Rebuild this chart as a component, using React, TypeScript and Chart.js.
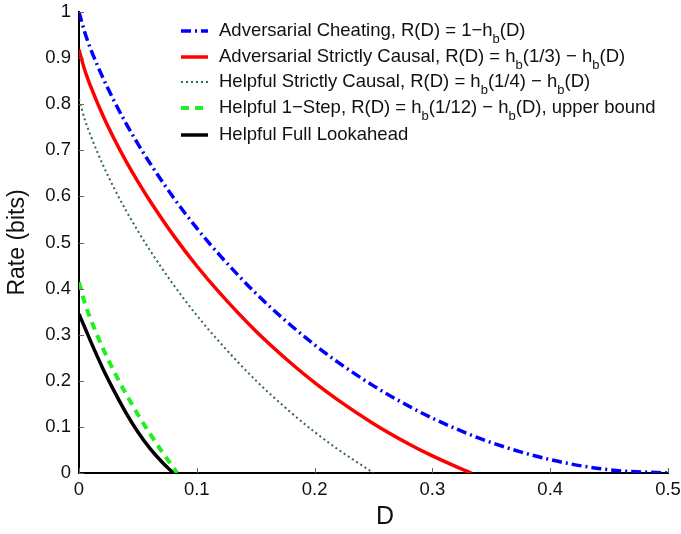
import React, { useEffect, useRef } from "react";
import { Chart, registerables } from "chart.js";
Chart.register(...registerables);

// Values
const cheatD = [0, 0.005, 0.01, 0.02, 0.03, 0.04, 0.05, 0.06, 0.08, 0.1, 0.12, 0.15, 0.18, 0.2, 0.22, 0.25, 0.28, 0.3, 0.32, 0.35, 0.4, 0.45, 0.5];
const cheatR = [1, 0.955, 0.919, 0.859, 0.806, 0.758, 0.714, 0.673, 0.598, 0.531, 0.471, 0.39, 0.32, 0.278, 0.24, 0.189, 0.145, 0.119, 0.096, 0.066, 0.029, 0.007, 0];

const advCausalD = [0, 0.005, 0.01, 0.02, 0.03, 0.04, 0.05, 0.06, 0.08, 0.1, 0.12, 0.15, 0.18, 0.2, 0.22, 0.25, 0.28, 0.3, 0.32, 0.333];
const advCausalR = [0.918, 0.873, 0.838, 0.777, 0.724, 0.676, 0.632, 0.591, 0.516, 0.449, 0.389, 0.308, 0.238, 0.196, 0.158, 0.107, 0.063, 0.037, 0.014, 0];

const helpCausalD = [0, 0.005, 0.01, 0.02, 0.03, 0.04, 0.05, 0.06, 0.08, 0.1, 0.12, 0.15, 0.18, 0.2, 0.22, 0.25];
const helpCausalR = [0.811, 0.766, 0.731, 0.67, 0.617, 0.569, 0.525, 0.484, 0.409, 0.342, 0.282, 0.201, 0.131, 0.089, 0.051, 0];

const oneStepD = [0, 0.005, 0.01, 0.02, 0.03, 0.04, 0.05, 0.06, 0.07, 0.08, 0.0833];
const oneStepR = [0.414, 0.368, 0.333, 0.272, 0.219, 0.171, 0.127, 0.086, 0.048, 0.012, 0];

const lookaheadD = [0, 0.005, 0.01, 0.02, 0.03, 0.04, 0.05, 0.06, 0.07, 0.08];
const lookaheadR = [0.345, 0.315, 0.285, 0.228, 0.177, 0.13, 0.089, 0.054, 0.025, 0];

const xTicks = [0, 0.1, 0.2, 0.3, 0.4, 0.5];
const yTicks = [0, 0.1, 0.2, 0.3, 0.4, 0.5, 0.6, 0.7, 0.8, 0.9, 1];

const xTitle = "D";
const yTitle = "Rate (bits)";

type Seg = { t: string; sub?: boolean };
const legendLabels: Seg[][] = [
  [{ t: "Adversarial Cheating, R(D) = 1\u2212h" }, { t: "b", sub: true }, { t: "(D)" }],
  [{ t: "Adversarial Strictly Causal, R(D) = h" }, { t: "b", sub: true }, { t: "(1/3) \u2212 h" }, { t: "b", sub: true }, { t: "(D)" }],
  [{ t: "Helpful Strictly Causal, R(D) = h" }, { t: "b", sub: true }, { t: "(1/4) \u2212 h" }, { t: "b", sub: true }, { t: "(D)" }],
  [{ t: "Helpful 1\u2212Step, R(D) = h" }, { t: "b", sub: true }, { t: "(1/12) \u2212 h" }, { t: "b", sub: true }, { t: "(D), upper bound" }],
  [{ t: "Helpful Full Lookahead" }],
];

const FONT = "'Liberation Sans', Arial, sans-serif";

const styles = [
  { color: "#0000ff", width: 3.5, dash: [10, 4, 2, 4] },
  { color: "#ff0000", width: 3.5, dash: [] as number[] },
  { color: "#2e6b4a", width: 2, dash: [2, 3] },
  { color: "#22ee22", width: 4, dash: [8, 6] },
  { color: "#000000", width: 3.5, dash: [] as number[] },
];

const pts = (xs: number[], ys: number[]) => xs.map((x, i) => ({ x, y: ys[i] }));

const legendPlugin = {
  id: "customLegend",
  afterDraw(chart: any) {
    const ctx = chart.ctx;
    const { left, bottom } = chart.chartArea;
    ctx.save();
    // inward tick marks
    ctx.strokeStyle = "#666";
    ctx.lineWidth = 1;
    const xs = chart.scales.x, ys = chart.scales.y;
    xTicks.forEach((v) => {
      const px = Math.round(xs.getPixelForValue(v)) + 0.5;
      ctx.beginPath();
      ctx.moveTo(px, bottom);
      ctx.lineTo(px, bottom - 5);
      ctx.stroke();
    });
    yTicks.forEach((v) => {
      const py = Math.round(ys.getPixelForValue(v)) + 0.5;
      ctx.beginPath();
      ctx.moveTo(left, py);
      ctx.lineTo(left + 5, py);
      ctx.stroke();
    });
    // x-axis title (slightly right of centre, as in the reference)
    ctx.fillStyle = "#111";
    ctx.font = `25px ${FONT}`;
    ctx.textAlign = "center";
    ctx.textBaseline = "middle";
    ctx.fillText(xTitle, 385, 517);
    // legend
    const rowsY = [31, 57, 82, 108, 135];
    const lx0 = 181, lx1 = 208, tx = 219;
    legendLabels.forEach((segs, i) => {
      const s = styles[i];
      const y = rowsY[i];
      ctx.strokeStyle = s.color;
      ctx.lineWidth = s.width;
      ctx.setLineDash(s.dash);
      ctx.beginPath();
      ctx.moveTo(lx0, y);
      ctx.lineTo(lx1, y);
      ctx.stroke();
      ctx.setLineDash([]);
      ctx.fillStyle = "#111";
      ctx.textBaseline = "middle";
      ctx.textAlign = "left";
      let x = tx;
      segs.forEach((seg) => {
        if (seg.sub) {
          ctx.font = `13px ${FONT}`;
          ctx.fillText(seg.t, x, y + 8);
        } else {
          ctx.font = `18.5px ${FONT}`;
          ctx.fillText(seg.t, x, y);
        }
        x += ctx.measureText(seg.t).width;
      });
    });
    ctx.restore();
  },
};

export default function App() {
  const ref = useRef<HTMLCanvasElement>(null);
  useEffect(() => {
    const series = [
      pts(cheatD, cheatR),
      pts(advCausalD, advCausalR),
      pts(helpCausalD, helpCausalR),
      pts(oneStepD, oneStepR),
      pts(lookaheadD, lookaheadR),
    ];
    const chart = new Chart(ref.current!, {
      type: "scatter",
      data: {
        datasets: series.map((d, i) => ({
          label: legendLabels[i].map((s) => s.t).join(""),
          data: d,
          showLine: true,
          pointRadius: 0,
          borderColor: styles[i].color,
          borderWidth: styles[i].width,
          borderDash: styles[i].dash,
          cubicInterpolationMode: "monotone" as const,
          fill: false,
        })),
      },
      options: {
        animation: false,
        responsive: false,
        maintainAspectRatio: false,
        layout: { padding: { left: 0, right: 13, top: 12, bottom: 0 } },
        plugins: { legend: { display: false }, tooltip: { enabled: false } },
        scales: {
          x: {
            type: "linear",
            min: 0,
            max: 0.5,
            afterBuildTicks: (s: any) => { s.ticks = xTicks.map((v) => ({ value: v })); },
            afterFit: (s: any) => { s.height = 61; s.paddingLeft = 0; s.paddingRight = 0; },
            grid: { display: false, drawTicks: false },
            border: { display: true, color: "#000", width: 2 },
            ticks: {
              color: "#111",
              font: { family: FONT, size: 18.5 },
              padding: 6,
              maxRotation: 0,
              callback: (v: any) => String(Number(Number(v).toFixed(1))),
            },
          },
          y: {
            type: "linear",
            min: 0,
            max: 1,
            afterBuildTicks: (s: any) => { s.ticks = yTicks.map((v) => ({ value: v })); },
            afterFit: (s: any) => { s.width = 79; s.paddingTop = 0; s.paddingBottom = 0; },
            grid: { display: false, drawTicks: false },
            border: { display: true, color: "#000", width: 2 },
            ticks: {
              color: "#111",
              font: { family: FONT, size: 18.5 },
              padding: 8,
              callback: (v: any) => String(Number(Number(v).toFixed(1))),
            },
            title: { display: true, text: yTitle, color: "#111", font: { family: FONT, size: 23 }, padding: { top: 4, bottom: 0 } },
          },
        },
      },
      plugins: [legendPlugin],
    });
    return () => chart.destroy();
  }, []);
  return (
    <div style={{ position: "fixed", left: 0, top: 0, width: 681, height: 534, background: "#fff" }}>
      <canvas ref={ref} width={681} height={534} style={{ width: 681, height: 534 }} />
    </div>
  );
}
